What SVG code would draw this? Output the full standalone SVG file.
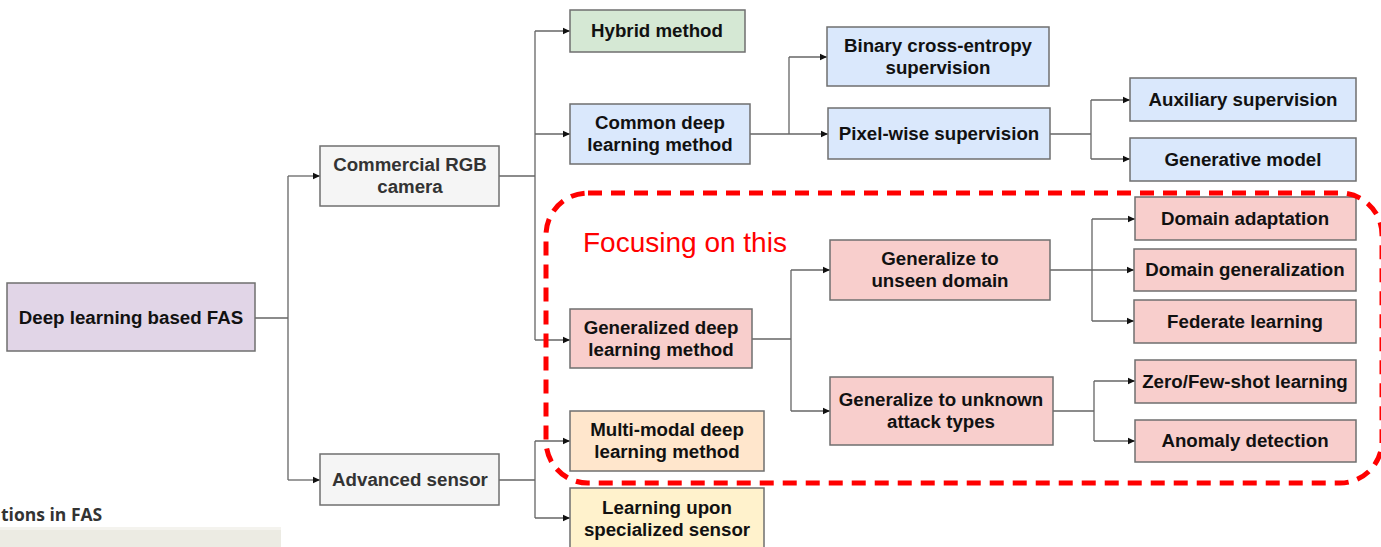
<svg xmlns="http://www.w3.org/2000/svg" width="1381" height="547" viewBox="0 0 1381 547">
  <defs>
    <marker id="arrow" markerWidth="8" markerHeight="8" refX="7" refY="4" orient="auto" markerUnits="userSpaceOnUse">
      <path d="M0,0.8 L7,4 L0,7.2 Z" fill="#111"/>
    </marker>
    <style>
      .box { stroke: #6f6f6f; stroke-width: 1.5; }
      .purple { fill: #e1d5e7; }
      .grey { fill: #f5f5f5; }
      .green { fill: #d5e8d4; }
      .blue { fill: #dae8fc; }
      .red { fill: #f8cecc; }
      .orange { fill: #ffe6cc; }
      .yellow { fill: #fff2cc; }
      .lbl { font-family: "Liberation Sans", Arial, sans-serif; font-size: 18.7px; font-weight: bold; fill: #111; text-anchor: middle; }
      .lbl.dim { fill: #333; }
      .conn path { fill: none; stroke: #666; stroke-width: 1.3; }
    </style>
  </defs>

  <!-- connectors -->
  <g class="conn">
    <path d="M255,318 H288 M288,176 V480"/>
    <path d="M288,176 H320" marker-end="url(#arrow)"/>
    <path d="M288,480 H320" marker-end="url(#arrow)"/>

    <path d="M499,176 H535 M535,31 V340"/>
    <path d="M535,31 H570" marker-end="url(#arrow)"/>
    <path d="M535,134 H570" marker-end="url(#arrow)"/>
    <path d="M535,340 H570" marker-end="url(#arrow)"/>

    <path d="M499,480 H535 M535,441 V518"/>
    <path d="M535,441 H570" marker-end="url(#arrow)"/>
    <path d="M535,518 H570" marker-end="url(#arrow)"/>

    <path d="M750,134 H789 M789,57 V134"/>
    <path d="M789,57 H827" marker-end="url(#arrow)"/>
    <path d="M789,134 H828" marker-end="url(#arrow)"/>

    <path d="M1050,134 H1091 M1091,100 V159"/>
    <path d="M1091,100 H1130" marker-end="url(#arrow)"/>
    <path d="M1091,159 H1130" marker-end="url(#arrow)"/>

    <path d="M752,339 H791 M791,270 V411"/>
    <path d="M791,270 H830" marker-end="url(#arrow)"/>
    <path d="M791,411 H830" marker-end="url(#arrow)"/>

    <path d="M1050,270 H1092 M1092,219 V321"/>
    <path d="M1092,219 H1135" marker-end="url(#arrow)"/>
    <path d="M1092,270 H1134" marker-end="url(#arrow)"/>
    <path d="M1092,321 H1134" marker-end="url(#arrow)"/>

    <path d="M1053,411 H1094 M1094,381 V441"/>
    <path d="M1094,381 H1135" marker-end="url(#arrow)"/>
    <path d="M1094,441 H1135" marker-end="url(#arrow)"/>
  </g>

  <!-- nodes -->
  <g id="fas">
    <rect class="box purple" x="7" y="283" width="248" height="68"/>
    <text class="lbl" x="131" y="324">Deep learning based FAS</text>
  </g>
  <g id="rgb-camera">
    <rect class="box grey" x="320" y="146" width="179" height="60"/>
    <text class="lbl dim" x="410" y="171">Commercial RGB</text>
    <text class="lbl dim" x="410" y="193">camera</text>
  </g>
  <g id="advanced-sensor">
    <rect class="box grey" x="320" y="454" width="179" height="51"/>
    <text class="lbl dim" x="410" y="486">Advanced sensor</text>
  </g>
  <g id="hybrid">
    <rect class="box green" x="570" y="10" width="175" height="42"/>
    <text class="lbl" x="657" y="37">Hybrid method</text>
  </g>
  <g id="common-dl">
    <rect class="box blue" x="570" y="104" width="180" height="60"/>
    <text class="lbl" x="660" y="129">Common deep</text>
    <text class="lbl" x="660" y="151">learning method</text>
  </g>
  <g id="generalized-dl">
    <rect class="box red" x="570" y="309" width="182" height="59"/>
    <text class="lbl" x="661" y="334">Generalized deep</text>
    <text class="lbl" x="661" y="356">learning method</text>
  </g>
  <g id="multi-modal">
    <rect class="box orange" x="570" y="411" width="194" height="60"/>
    <text class="lbl" x="667" y="436">Multi-modal deep</text>
    <text class="lbl" x="667" y="458">learning method</text>
  </g>
  <g id="specialized-sensor">
    <rect class="box yellow" x="570" y="488" width="194" height="62"/>
    <text class="lbl" x="667" y="514">Learning upon</text>
    <text class="lbl" x="667" y="536">specialized sensor</text>
  </g>
  <g id="binary-ce">
    <rect class="box blue" x="827" y="27" width="222" height="59"/>
    <text class="lbl" x="938" y="52">Binary cross-entropy</text>
    <text class="lbl" x="938" y="74">supervision</text>
  </g>
  <g id="pixel-wise">
    <rect class="box blue" x="828" y="108" width="222" height="51"/>
    <text class="lbl" x="939" y="140">Pixel-wise supervision</text>
  </g>
  <g id="auxiliary">
    <rect class="box blue" x="1130" y="78" width="226" height="43"/>
    <text class="lbl" x="1243" y="106">Auxiliary supervision</text>
  </g>
  <g id="generative">
    <rect class="box blue" x="1130" y="138" width="226" height="43"/>
    <text class="lbl" x="1243" y="166">Generative model</text>
  </g>
  <g id="unseen-domain">
    <rect class="box red" x="830" y="240" width="220" height="60"/>
    <text class="lbl" x="940" y="265">Generalize to</text>
    <text class="lbl" x="940" y="287">unseen domain</text>
  </g>
  <g id="unknown-attack">
    <rect class="box red" x="830" y="377" width="223" height="68"/>
    <text class="lbl" x="941" y="406">Generalize to unknown</text>
    <text class="lbl" x="941" y="428">attack types</text>
  </g>
  <g id="domain-adaptation">
    <rect class="box red" x="1135" y="197" width="221" height="43"/>
    <text class="lbl" x="1245" y="225">Domain adaptation</text>
  </g>
  <g id="domain-generalization">
    <rect class="box red" x="1134" y="249" width="222" height="42"/>
    <text class="lbl" x="1245" y="276">Domain generalization</text>
  </g>
  <g id="federate">
    <rect class="box red" x="1134" y="300" width="222" height="43"/>
    <text class="lbl" x="1245" y="328">Federate learning</text>
  </g>
  <g id="zero-few-shot">
    <rect class="box red" x="1135" y="360" width="221" height="43"/>
    <text class="lbl" x="1245" y="388">Zero/Few-shot learning</text>
  </g>
  <g id="anomaly">
    <rect class="box red" x="1135" y="420" width="221" height="42"/>
    <text class="lbl" x="1245" y="447">Anomaly detection</text>
  </g>

  <!-- highlight region -->
  <rect x="546" y="193" width="836" height="290" rx="42" ry="42" fill="none" stroke="#ff0000" stroke-width="5" stroke-dasharray="14 9"/>
  <text x="583" y="252" font-family="'Liberation Sans', Arial, sans-serif" font-size="28" fill="#ff0000">Focusing on this</text>

  <!-- partial caption strip at lower left -->
  <rect x="0" y="527" width="281" height="20" fill="#ecebe3"/>
  <rect x="0" y="527" width="281" height="3" fill="#f4f3ee"/>
  <text x="1" y="521" font-family="'Open Sans', 'Liberation Sans', sans-serif" font-size="17.5" font-weight="bold" fill="#333">tions in FAS</text>
</svg>
